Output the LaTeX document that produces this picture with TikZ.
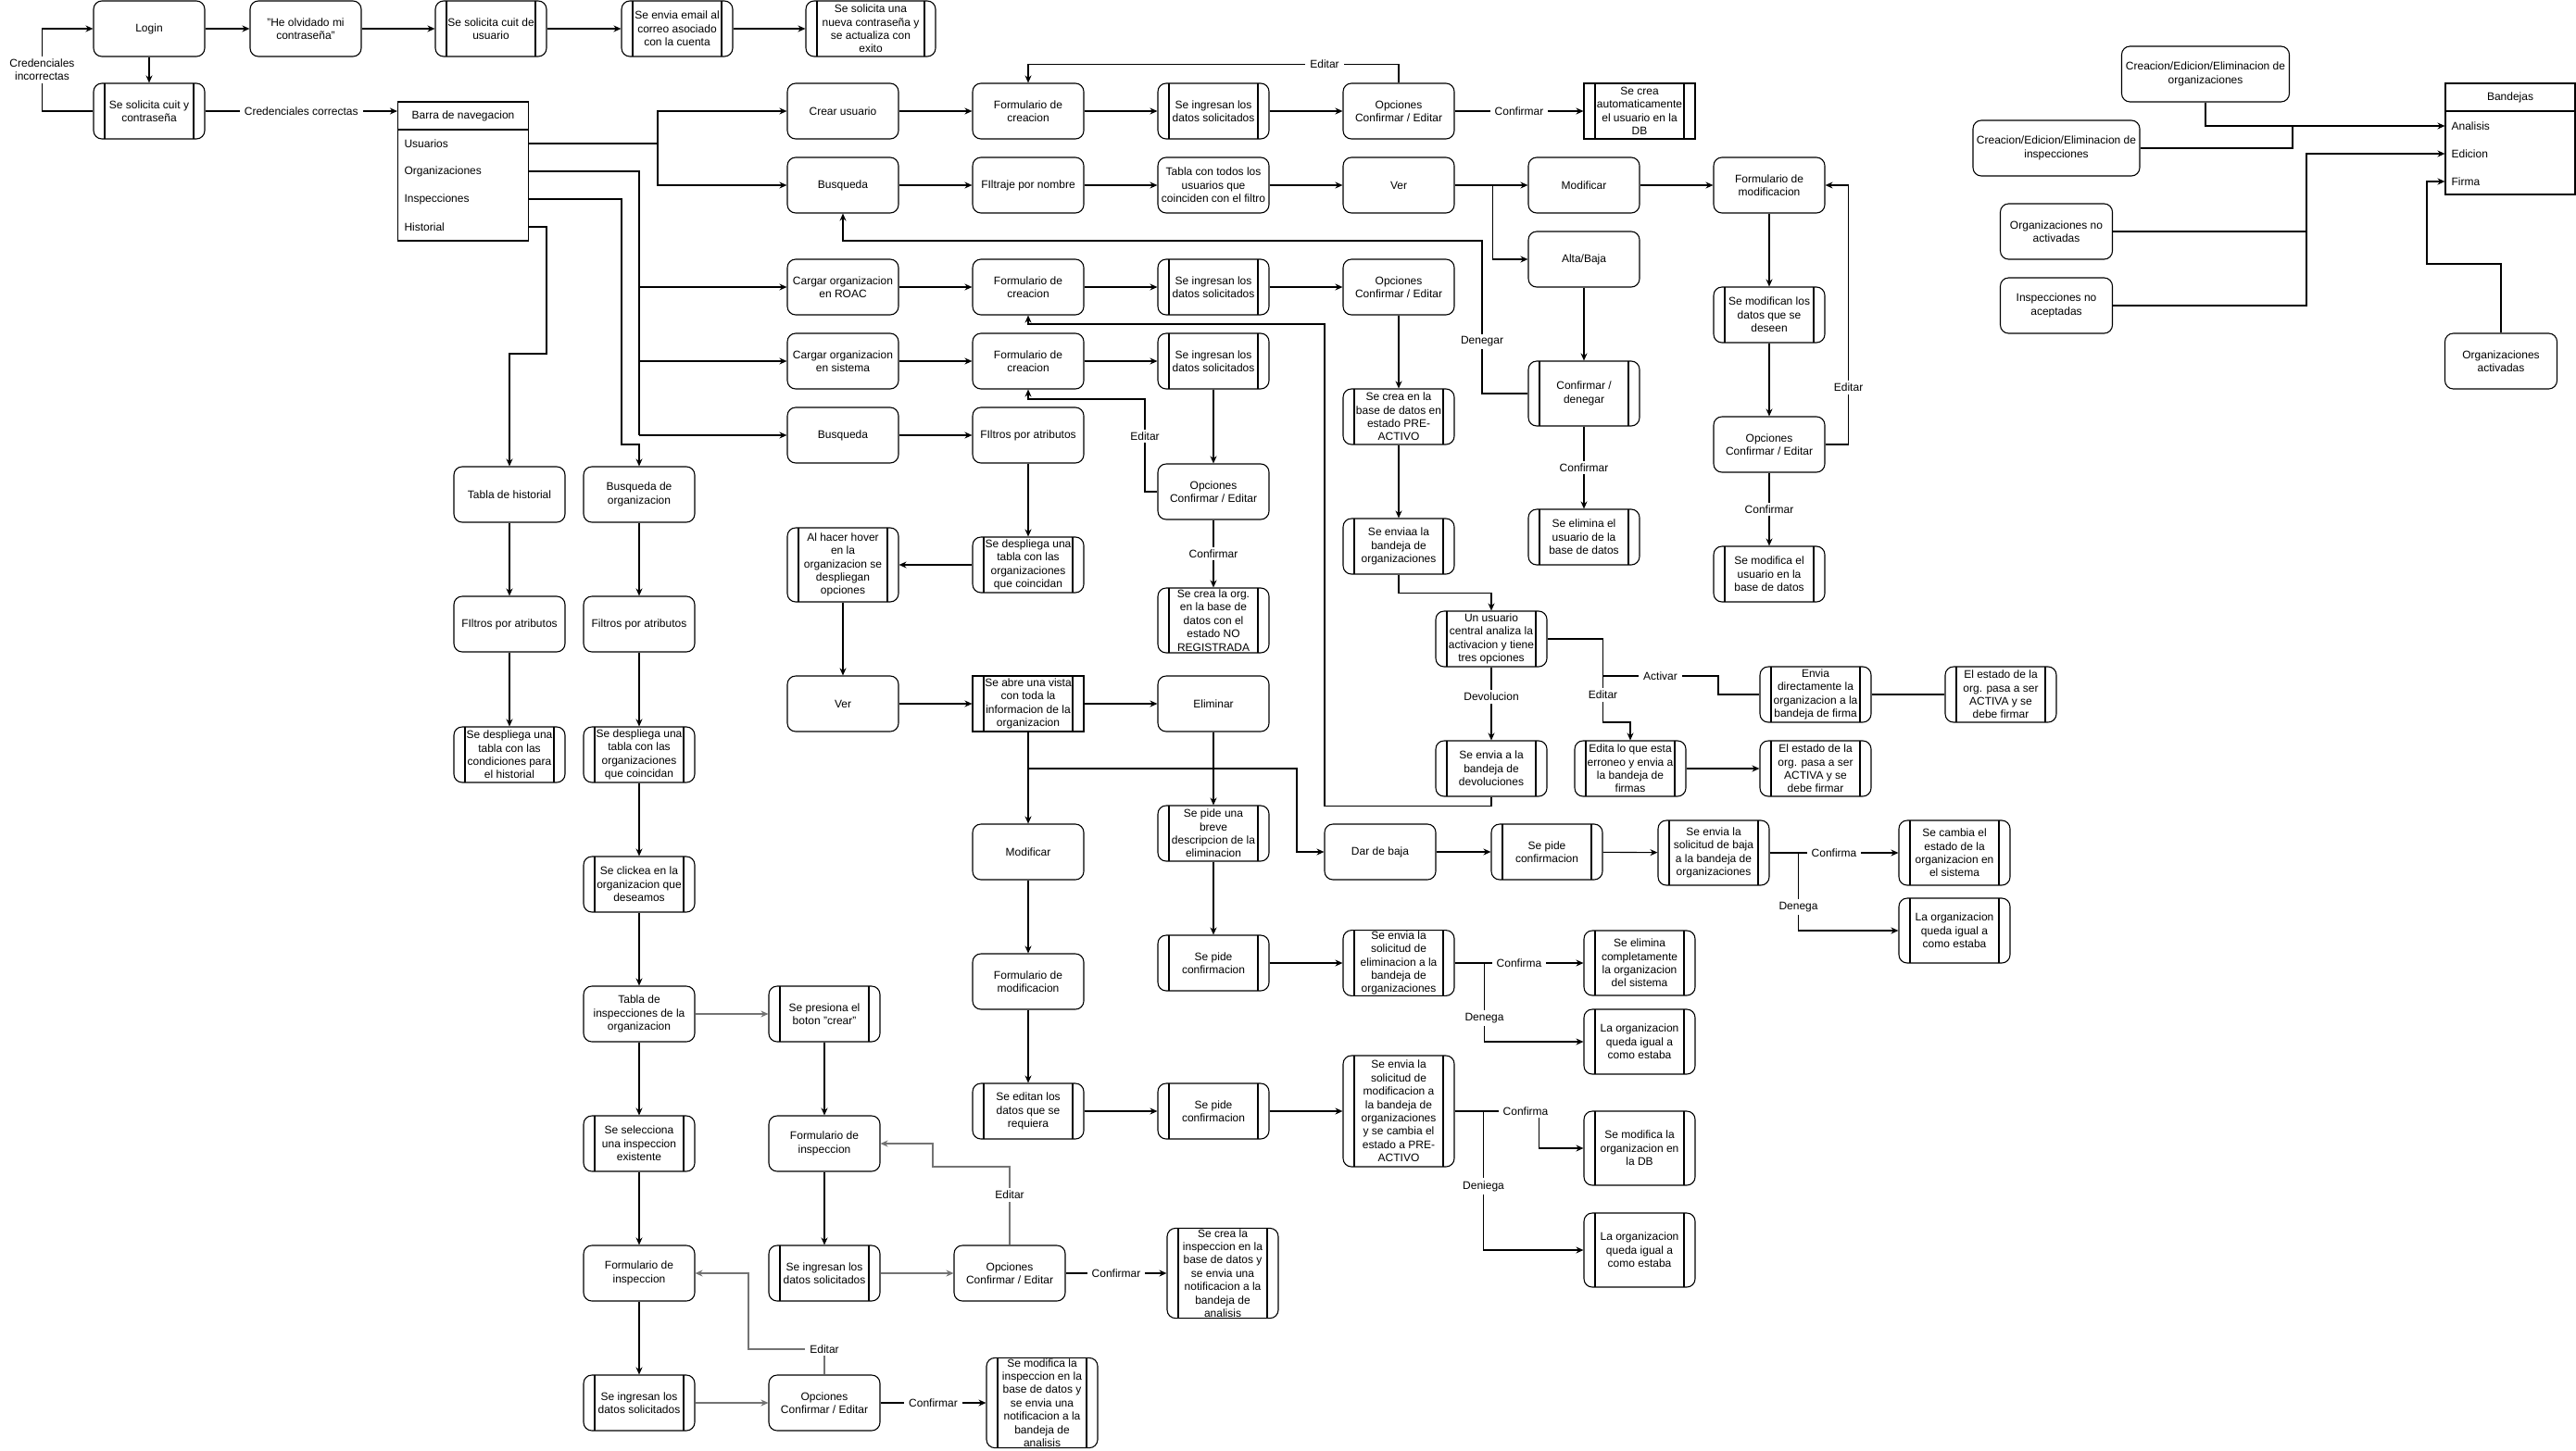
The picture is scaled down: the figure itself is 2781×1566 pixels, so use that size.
\documentclass[tikz,border=0pt]{standalone}
\usepackage{fontspec}
\setmainfont{Liberation Sans}
\usetikzlibrary{arrows.meta}

\begin{document}
\begin{tikzpicture}[
    x=1pt, y=-1pt,
    font=\fontsize{12}{14.4}\selectfont,
    line width=1.1pt,
    >={Stealth[length=8pt,width=7pt]},
    box/.style={draw, rounded corners=9pt, align=center, minimum width=120pt, minimum height=60pt, inner sep=1pt},
    proc/.style={box, path picture={
        \draw ([xshift=12pt]path picture bounding box.north west) -- ([xshift=12pt]path picture bounding box.south west)
              ([xshift=-12pt]path picture bounding box.north east) -- ([xshift=-12pt]path picture bounding box.south east);}},
    procsq/.style={proc, sharp corners},
    hdr/.style={draw, minimum width=141pt, minimum height=30pt, inner sep=1pt},
    lst/.style={draw, minimum width=141pt, inner sep=0pt},
    item/.style={anchor=west, inner sep=0pt},
    lbl/.style={fill=white, inner xsep=5pt, inner ysep=3pt, align=center},
    gline/.style={draw=black!55}
]
\path[fill=white, use as bounding box] (0,0) rectangle (2781,1566);

% login
\node[box] (login) at (161,31) {Login};
\node[box] (olvido) at (330,31) {"He olvidado mi\\contraseña"};
\node[proc] (cuitusr) at (530,31) {Se solicita cuit de\\usuario};
\node[proc] (email) at (731,31) {Se envia email al\\correo asociado\\con la cuenta};
\node[proc, minimum width=140pt] (nueva) at (940,31) {Se solicita una\\nueva contraseña y\\se actualiza con\\exito};
\node[proc] (cuitpass) at (161,120) {Se solicita cuit y\\contraseña};

% barra de navegacion
\node[hdr] (barra) at (500,125) {Barra de navegacion};
\node[lst, minimum height=120pt] (barlist) at (500,200) {};
\node[item] (usu) at (436,155) {Usuarios};
\node[item] (orgs) at (436,185) {Organizaciones};
\node[item] (insps) at (436,215) {Inspecciones};
\node[item] (hist) at (436,245) {Historial};

% usuarios
\node[box] (crearusr) at (910,120) {Crear usuario};
\node[box] (formcrea1) at (1110,120) {Formulario de\\creacion};
\node[proc] (ingresa1) at (1310,120) {Se ingresan los\\datos solicitados};
\node[box] (opc1) at (1510,120) {Opciones\\Confirmar / Editar};
\node[procsq] (autousr) at (1770,120) {Se crea\\automaticamente\\el usuario en la\\DB};
\node[box] (busqusr) at (910,200) {Busqueda};
\node[box] (filtnom) at (1110,200) {FIltraje por nombre};
\node[box] (tablausr) at (1310,200) {Tabla con todos los\\usuarios que\\coinciden con el filtro};
\node[box] (verusr) at (1510,200) {Ver};
\node[box] (modusr) at (1710,200) {Modificar};
\node[box] (formmod) at (1910,200) {Formulario de\\modificacion};
\node[box] (altabaja) at (1710,280) {Alta/Baja};
\node[proc, minimum height=70pt] (confden) at (1710,425) {Confirmar /\\denegar};
\node[proc] (elimusr) at (1710,580) {Se elimina el\\usuario de la\\base de datos};
\node[proc] (modifican) at (1910,340) {Se modifican los\\datos que se\\deseen};
\node[box] (opcmod) at (1910,480) {Opciones\\Confirmar / Editar};
\node[proc] (modusrdb) at (1910,620) {Se modifica el\\usuario en la\\base de datos};

% organizaciones
\node[box] (roac) at (910,310) {Cargar organizacion\\en ROAC};
\node[box] (formcrea2) at (1110,310) {Formulario de\\creacion};
\node[proc] (ingresa2) at (1310,310) {Se ingresan los\\datos solicitados};
\node[box] (opc2) at (1510,310) {Opciones\\Confirmar / Editar};
\node[proc] (preact) at (1510,450) {Se crea en la\\base de datos en\\estado PRE-\\ACTIVO};
\node[proc] (enviaa) at (1510,590) {Se enviaa la\\bandeja de\\organizaciones};
\node[proc] (central) at (1610,690) {Un usuario\\central analiza la\\activacion y tiene\\tres opciones};
\node[proc] (devol) at (1610,830) {Se envia a la\\bandeja de\\devoluciones};
\node[proc] (edita) at (1760,830) {Edita lo que esta\\erroneo y envia a\\la bandeja de\\firmas};
\node[proc] (activa2) at (1960,830) {El estado de la\\org. pasa a ser\\ACTIVA y se\\debe firmar};
\node[proc] (directa) at (1960,750) {Envia\\directamente la\\organizacion a la\\bandeja de firma};
\node[proc] (activa1) at (2160,750) {El estado de la\\org. pasa a ser\\ACTIVA y se\\debe firmar};
\node[box] (sistema) at (910,390) {Cargar organizacion\\en sistema};
\node[box] (formcrea3) at (1110,390) {Formulario de\\creacion};
\node[proc] (ingresa3) at (1310,390) {Se ingresan los\\datos solicitados};
\node[box] (opc3) at (1310,531) {Opciones\\Confirmar / Editar};
\node[proc, minimum height=70pt] (noreg) at (1310,670) {Se crea la org.\\en la base de\\datos con el\\estado NO\\REGISTRADA};
\node[box] (busqorg) at (910,470) {Busqueda};
\node[box] (filtatr) at (1110,470) {FIltros por atributos};
\node[proc] (desplorg) at (1110,610) {Se despliega una\\tabla con las\\organizaciones\\que coincidan};
\node[proc, minimum height=80pt] (hover) at (910,610) {Al hacer hover\\en la\\organizacion se\\despliegan\\opciones};
\node[box] (verorg) at (910,760) {Ver};
\node[procsq] (vista) at (1110,760) {Se abre una vista\\con toda la\\informacion de la\\organizacion};
\node[box] (eliminar) at (1310,760) {Eliminar};
\node[box] (modorg) at (1110,920) {Modificar};
\node[proc] (breve) at (1310,900) {Se pide una\\breve\\descripcion de la\\eliminacion};
\node[box] (baja) at (1490,920) {Dar de baja};
\node[proc] (confbaja) at (1670,920) {Se pide\\confirmacion};
\node[proc, minimum height=70pt] (solbaja) at (1850,921) {Se envia la\\solicitud de baja\\a la bandeja de\\organizaciones};
\node[proc, minimum height=70pt] (cambia) at (2110,921) {Se cambia el\\estado de la\\organizacion en\\el sistema};
\node[proc, minimum height=70pt] (igual1) at (2110,1005) {La organizacion\\queda igual a\\como estaba};
\node[proc] (confelim) at (1310,1040) {Se pide\\confirmacion};
\node[proc, minimum height=70pt] (solelim) at (1510,1040) {Se envia la\\solicitud de\\eliminacion a la\\bandeja de\\organizaciones};
\node[proc, minimum height=70pt] (elimorg) at (1770,1040) {Se elimina\\completamente\\la organizacion\\del sistema};
\node[proc, minimum height=70pt] (igual2) at (1770,1125) {La organizacion\\queda igual a\\como estaba};
\node[box] (formmodorg) at (1110,1060) {Formulario de\\modificacion};
\node[proc] (editan) at (1110,1200) {Se editan los\\datos que se\\requiera};
\node[proc] (confmod) at (1310,1200) {Se pide\\confirmacion};
\node[proc, minimum height=120pt] (solmod) at (1510,1200) {Se envia la\\solicitud de\\modificacion a\\la bandeja de\\organizaciones\\y se cambia el\\estado a PRE-\\ACTIVO};
\node[proc, minimum height=80pt] (moddb) at (1770,1240) {Se modifica la\\organizacion en\\la DB};
\node[proc, minimum height=80pt] (igual3) at (1770,1350) {La organizacion\\queda igual a\\como estaba};

% historial e inspecciones
\node[box] (histtab) at (550,534) {Tabla de historial};
\node[box] (histfilt) at (550,674) {FIltros por atributos};
\node[proc] (histdesp) at (550,815) {Se despliega una\\tabla con las\\condiciones para\\el historial};
\node[box] (busqdeorg) at (690,534) {Busqueda de\\organizacion};
\node[box] (orgfilt) at (690,674) {Filtros por atributos};
\node[proc] (orgdesp) at (690,815) {Se despliega una\\tabla con las\\organizaciones\\que coincidan};
\node[proc] (clickea) at (690,955) {Se clickea en la\\organizacion que\\deseamos};
\node[box] (tablainsp) at (690,1095) {Tabla de\\inspecciones de la\\organizacion};
\node[proc] (selecc) at (690,1235) {Se selecciona\\una inspeccion\\existente};
\node[box] (forminsp1) at (690,1375) {Formulario de\\inspeccion};
\node[proc] (ingresa4) at (690,1515) {Se ingresan los\\datos solicitados};
\node[box] (opc5) at (890,1515) {Opciones\\Confirmar / Editar};
\node[proc, minimum height=96pt] (modinsp) at (1125,1515) {Se modifica la\\inspeccion en la\\base de datos y\\se envia una\\notificacion a la\\bandeja de\\analisis};
\node[proc] (presiona) at (890,1095) {Se presiona el\\boton "crear"};
\node[box] (forminsp2) at (890,1235) {Formulario de\\inspeccion};
\node[proc] (ingresa5) at (890,1375) {Se ingresan los\\datos solicitados};
\node[box] (opc4) at (1090,1375) {Opciones\\Confirmar / Editar};
\node[proc, minimum height=96pt] (creainsp) at (1320,1375) {Se crea la\\inspeccion en la\\base de datos y\\se envia una\\notificacion a la\\bandeja de\\analisis};

% bandejas
\node[box, minimum width=181pt] (creaorg) at (2381,80) {Creacion/Edicion/Eliminacion de\\organizaciones};
\node[box, minimum width=180pt] (creainspb) at (2220,160) {Creacion/Edicion/Eliminacion de\\inspecciones};
\node[box, minimum width=121pt] (noact) at (2220,250) {Organizaciones no\\activadas};
\node[box, minimum width=121pt] (noacep) at (2220,330) {Inspecciones no\\aceptadas};
\node[box, minimum width=121pt] (activ) at (2700,390) {Organizaciones\\activadas};
\node[hdr, minimum width=140pt] (bandejas) at (2710,105) {Bandejas};
\node[lst, minimum width=140pt, minimum height=90pt] (bandlist) at (2710,165) {};
\node[item] (ana) at (2646,136) {Analisis};
\node[item] (edi) at (2646,166) {Edicion};
\node[item] (fir) at (2646,196) {Firma};

% junctions
\coordinate (jusu) at (710,155);
\coordinate (jorg) at (690,185);
\coordinate (jinsp) at (671,480);
\coordinate (jhist) at (590,382);
\coordinate (jden) at (1600,260);
\coordinate (jact) at (1730,730);
\coordinate (jdev) at (1430,350);
\coordinate (jed3) at (1236,431);
\coordinate (jvis) at (1400,830);
\coordinate (jins) at (1007,1260);
\coordinate (jinl) at (808,1457);
\coordinate (jcre) at (2475,136);
\coordinate (jnoa) at (2490,166);
\coordinate (jfir) at (2620,285);

% login flow
\draw[->] (login) -- (olvido);
\draw[->] (olvido) -- (cuitusr);
\draw[->] (cuitusr) -- (email);
\draw[->] (email) -- (nueva);
\draw[->] (login) -- (cuitpass);
\draw[->] (cuitpass.west) -- ++(-55,0) |- node[lbl, pos=0.25]{Credenciales\\incorrectas} (login.west);
\draw[->] (cuitpass.east) -- node[lbl]{Credenciales correctas} (cuitpass.east -| barra.west);

% barra
\draw (usu -| barlist.east) -- (jusu);
\draw[->] (jusu) |- (crearusr.west);
\draw[->] (jusu) |- (busqusr.west);
\draw (orgs -| barlist.east) -- (jorg) -- (jorg |- busqorg);
\draw[->] (jorg |- roac) -- (roac);
\draw[->] (jorg |- sistema) -- (sistema);
\draw[->] (jorg |- busqorg) -- (busqorg);
\draw[->] (insps -| barlist.east) -| (jinsp) -| (busqdeorg.north);
\draw[->] (hist -| barlist.east) -| (jhist) -| (histtab.north);

% usuarios
\draw[->] (crearusr) -- (formcrea1);
\draw[->] (formcrea1) -- (ingresa1);
\draw[->] (ingresa1) -- (opc1);
\draw[->] (opc1) -- node[lbl]{Confirmar} (autousr);
\draw[->] (opc1.north) -- ++(0,-20) -| node[lbl, pos=0.1]{Editar} (formcrea1.north);
\draw[->] (busqusr) -- (filtnom);
\draw[->] (filtnom) -- (tablausr);
\draw[->] (tablausr) -- (verusr);
\draw[->] (verusr) -- (modusr);
\draw[->] (modusr) -- (formmod);
\draw[->] (verusr.east) -- ++(41,0) |- (altabaja.west);
\draw[->] (altabaja) -- (confden);
\draw[->] (confden) -- node[lbl]{Confirmar} (elimusr);
\draw[->] (confden.west) -| node[lbl, pos=0.67]{Denegar} (jden) -| (busqusr.south);
\draw[->] (formmod) -- (modifican);
\draw[->] (modifican) -- (opcmod);
\draw[->] (opcmod) -- node[lbl]{Confirmar} (modusrdb);
\draw[->] (opcmod.east) -- ++(25,0) |- node[lbl, pos=0.11]{Editar} (formmod.east);

% organizaciones
\draw[->] (roac) -- (formcrea2);
\draw[->] (formcrea2) -- (ingresa2);
\draw[->] (ingresa2) -- (opc2);
\draw[->] (opc2) -- (preact);
\draw[->] (preact) -- (enviaa);
\draw[->] (enviaa.south) -- ++(0,20) -| (central.north);
\draw[->] (central) -- node[lbl, pos=0.4]{Devolucion} (devol);
\draw[->] (central.east) -- ++(60,0) -- node[lbl, pos=0.67]{Editar} ++(0,90) -| (edita.north);
\draw (jact) -- node[lbl]{Activar} ++(125,0) |- (directa.west);
\draw (directa) -- (activa1);
\draw[->] (edita) -- (activa2);
\draw[->] (devol.south) -- ++(0,10) -| (jdev) -| (formcrea2.south);
\draw[->] (sistema) -- (formcrea3);
\draw[->] (formcrea3) -- (ingresa3);
\draw[->] (ingresa3) -- (opc3);
\draw[->] (opc3) -- node[lbl]{Confirmar} (noreg);
\draw[->] (opc3.west) -| node[lbl, pos=0.8]{Editar} (jed3) -| (formcrea3.south);
\draw[->] (busqorg) -- (filtatr);
\draw[->] (filtatr) -- (desplorg);
\draw[->] (desplorg) -- (hover);
\draw[->] (hover) -- (verorg);
\draw[->] (verorg) -- (vista);
\draw[->] (vista) -- (eliminar);
\draw[->] (vista) -- (modorg);
\draw[->] (vista.south) |- (jvis) |- (baja.west);
\draw[->] (eliminar) -- (breve);
\draw[->] (breve) -- (confelim);
\draw[->] (confelim) -- (solelim);
\draw[->] (solelim) -- node[lbl]{Confirma} (elimorg);
\draw[->] (solelim.east) -- ++(32,0) |- node[lbl, pos=0.35]{Denega} (igual2.west);
\draw[->] (baja) -- (confbaja);
\draw[->] (confbaja) -- (solbaja);
\draw[->] (solbaja) -- node[lbl]{Confirma} (cambia);
\draw[->] (solbaja.east) -- ++(31,0) |- node[lbl, pos=0.35]{Denega} (igual1.west);
\draw[->] (modorg) -- (formmodorg);
\draw[->] (formmodorg) -- (editan);
\draw[->] (editan) -- (confmod);
\draw[->] (confmod) -- (solmod);
\draw[->] (solmod.east) -- node[lbl, pos=0.84]{Confirma} ++(91,0) |- (moddb.west);
\draw[->] (solmod.east) -- ++(31,0) |- node[lbl, pos=0.27]{Deniega} (igual3.west);

% historial e inspecciones
\draw[->] (histtab) -- (histfilt);
\draw[->] (histfilt) -- (histdesp);
\draw[->] (busqdeorg) -- (orgfilt);
\draw[->] (orgfilt) -- (orgdesp);
\draw[->] (orgdesp) -- (clickea);
\draw[->] (clickea) -- (tablainsp);
\draw[->] (tablainsp) -- (selecc);
\draw[->] (selecc) -- (forminsp1);
\draw[->] (forminsp1) -- (ingresa4);
\draw[->, gline] (ingresa4) -- (opc5);
\draw[->] (opc5) -- node[lbl]{Confirmar} (modinsp);
\draw[->, gline] (tablainsp) -- (presiona);
\draw[->] (presiona) -- (forminsp2);
\draw[->] (forminsp2) -- (ingresa5);
\draw[->, gline] (ingresa5) -- (opc4);
\draw[->] (opc4) -- node[lbl]{Confirmar} (creainsp);
\draw[->, gline] (opc4.north) |- node[lbl, pos=0.32]{Editar} (jins) |- (forminsp2.east);
\draw[->, gline] (opc5.north) |- node[lbl]{Editar} (jinl) |- (forminsp1.east);

% bandejas
\draw[->] (creaorg.south) |- (ana -| bandlist.west);
\draw (creainspb.east) -| (jcre);
\draw[->] (noact.east) -| (jnoa) -- (edi -| bandlist.west);
\draw (noacep.east) -| (jnoa);
\draw[->] (activ.north) |- (jfir) |- (fir -| bandlist.west);
\end{tikzpicture}
\end{document}
